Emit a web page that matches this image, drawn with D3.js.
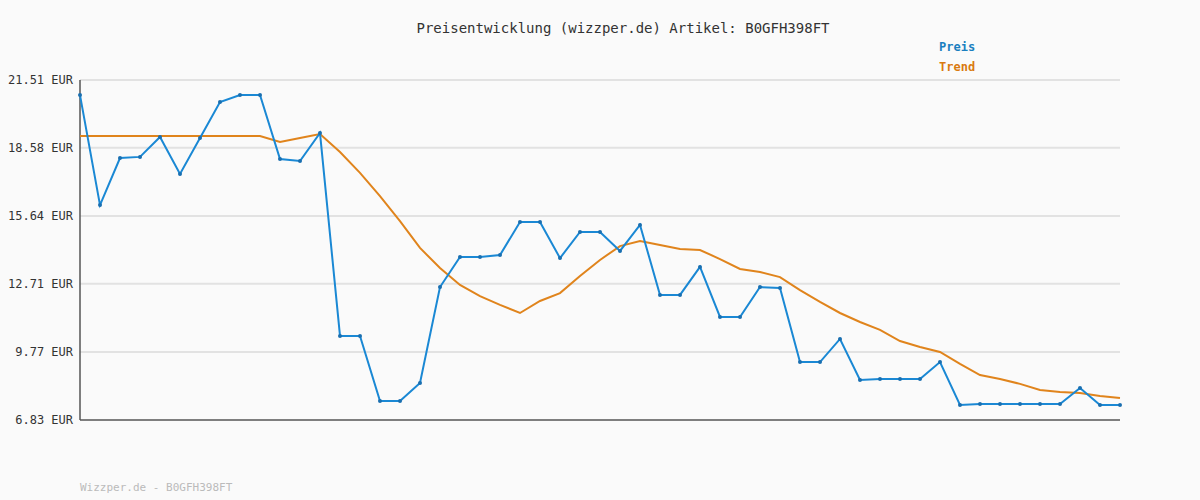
<!DOCTYPE html>
<html><head><meta charset="utf-8">
<script src="https://cdn.jsdelivr.net/npm/d3@7"></script>
<style>body{margin:0;background:#fafafa}svg{display:block;font-family:"DejaVu Sans Mono",monospace}</style>
</head><body><svg id="c" width="1200" height="500"></svg>
<script>
const tickLabels=["6.83 EUR","9.77 EUR","12.71 EUR","15.64 EUR","18.58 EUR","21.51 EUR"];
const tickValues=[6.83,9.77,12.71,15.64,18.58,21.51];
const preis=[20.86,16.11,18.14,18.19,19.05,17.45,19.01,20.56,20.86,20.86,18.10,18.01,19.22,10.46,10.46,7.65,7.65,8.43,12.57,13.87,13.87,13.95,15.38,15.38,13.82,14.95,14.95,14.13,15.25,12.23,12.23,13.44,11.28,11.28,12.57,12.53,9.33,9.33,10.33,8.56,8.60,8.60,8.60,9.33,7.48,7.52,7.52,7.52,7.52,7.52,8.21,7.48,7.48];
const trend=[19.09,19.09,19.09,19.09,19.09,19.09,19.09,19.09,19.09,19.09,18.83,19.01,19.18,18.40,17.50,16.50,15.42,14.26,13.39,12.66,12.18,11.80,11.45,11.97,12.31,13.05,13.74,14.34,14.56,14.39,14.21,14.17,13.78,13.35,13.22,13.00,12.44,11.93,11.45,11.06,10.72,10.24,9.98,9.77,9.25,8.77,8.60,8.39,8.13,8.04,8.00,7.87,7.78];
const svg=d3.select("#c");
const x=d3.scaleLinear().domain([0,preis.length-1]).range([80,1120]);
const y=d3.scaleLinear().domain([6.83,21.51]).range([420,80]);
svg.append("rect").attr("width",1200).attr("height",500).attr("fill","#fafafa");
svg.selectAll(".g").data(tickValues.slice(1)).enter().append("line")
 .attr("x1",80).attr("x2",1120).attr("y1",d=>y(d)).attr("y2",d=>y(d)).attr("stroke","#e2e2e2").attr("stroke-width",2);
svg.selectAll(".t").data(tickValues).enter().append("text")
 .attr("x",73).attr("y",d=>y(d)+4).attr("text-anchor","end").attr("font-size",12).attr("fill","#333")
 .text((d,i)=>tickLabels[i]);
svg.append("line").attr("x1",80).attr("x2",80).attr("y1",80).attr("y2",420).attr("stroke","#555").attr("stroke-width",1.5);
svg.append("line").attr("x1",80).attr("x2",1120).attr("y1",420).attr("y2",420).attr("stroke","#555").attr("stroke-width",1.5);
const line=d3.line().x((d,i)=>x(i)).y(d=>y(d));
svg.append("path").attr("d",line(trend)).attr("fill","none").attr("stroke","#e0841c").attr("stroke-width",2);
svg.append("path").attr("d",line(preis)).attr("fill","none").attr("stroke","#1a88d4").attr("stroke-width",2);
svg.selectAll(".p").data(preis).enter().append("circle").attr("cx",(d,i)=>x(i)).attr("cy",d=>y(d)).attr("r",2).attr("fill","#1a6fb0");
svg.append("text").attr("x",623).attr("y",33).attr("text-anchor","middle").attr("font-size",14).attr("fill","#333").text("Preisentwicklung (wizzper.de) Artikel: B0GFH398FT");
svg.append("text").attr("x",939).attr("y",51).attr("font-size",12).attr("font-weight","bold").attr("fill","#1a7fc0").text("Preis");
svg.append("text").attr("x",939).attr("y",71).attr("font-size",12).attr("font-weight","bold").attr("fill","#d97a10").text("Trend");
svg.append("text").attr("x",80).attr("y",491).attr("font-size",11).attr("fill","#bbb").text("Wizzper.de - B0GFH398FT");
</script></body></html>
